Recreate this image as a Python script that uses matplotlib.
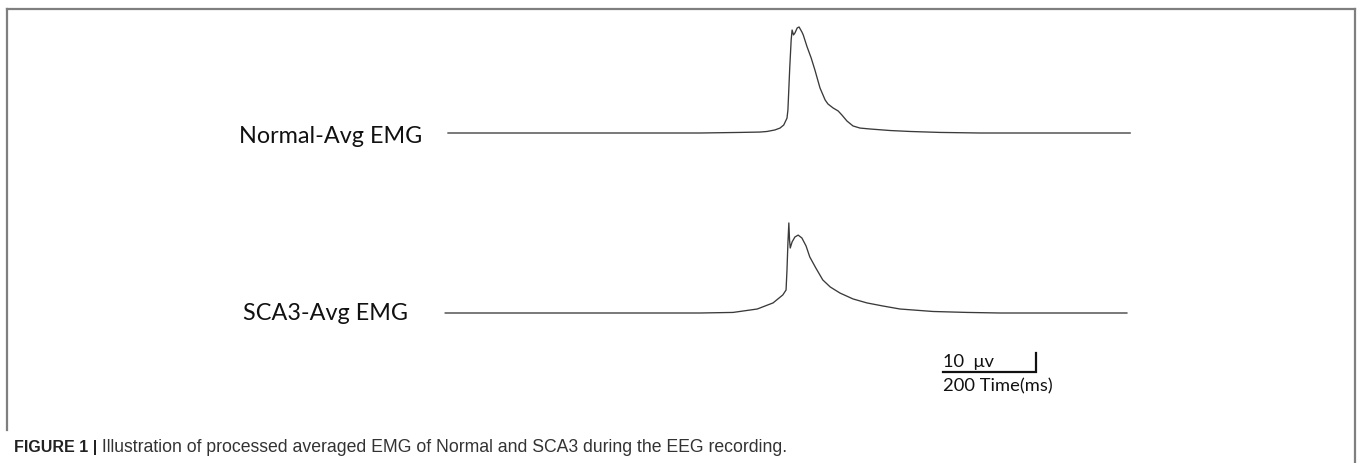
import matplotlib
matplotlib.use("Agg")
import matplotlib.pyplot as plt
from matplotlib.lines import Line2D
import numpy as np

# ---- data (time in ms, amplitude in microvolts above baseline) ----
normal_t = [0, 327, 542, 628, 671, 686, 703, 714, 722, 729, 731, 735, 738, 740, 743,
            746, 751, 755, 761, 764, 772, 781, 789, 800, 811, 817, 828, 839, 847,
            858, 871, 886, 908, 951, 994, 1058, 1144, 1467]
normal_a = [0, 0, 0, 0.3, 0.5, 0.8, 1.6, 2.6, 4.2, 7.8, 12.1, 34.7, 49, 54.2, 51.6,
            52.6, 55.3, 55.8, 53.2, 51.6, 45.5, 39.5, 33.2, 23.7, 17.4, 15.3, 13.2,
            11.6, 9.5, 6.3, 3.7, 2.6, 2.1, 1.3, 0.8, 0.3, 0, 0]

sca3_t = [-6, 542, 613, 665, 699, 720, 727, 729, 731, 733, 734.5, 736, 740, 746,
          753, 761, 770, 778, 791, 806, 822, 843, 871, 901, 935, 972, 1043, 1116,
          1187, 1460]
sca3_a = [0, 0, 0.3, 2.1, 5.3, 9.5, 12.1, 22.6, 36.8, 47.4, 38.4, 34.2, 37.4, 40,
          41, 39.5, 35.3, 29.5, 23.7, 17.4, 13.7, 10.5, 7.4, 5.3, 3.7, 2.1, 0.8,
          0.3, 0, 0]

labels = ["Normal-Avg EMG", "SCA3-Avg EMG"]
scale_ms = 200
scale_uv = 10
scale_labels = ["10  \u03bcv", "200 Time(ms)"]
caption_bold = "FIGURE 1 |"
caption_text = " Illustration of processed averaged EMG of Normal and SCA3 during the EEG recording."

# ---- layout ----
W, H = 1357, 463
PX_PER_MS = 0.465
PX_PER_UV = 1.9
X0 = 448  # pixel x of t = 0

fig = plt.figure(figsize=(W / 100, H / 100), dpi=100)
ax = fig.add_axes([0, 0, 1, 1])
ax.set_xlim(-X0 / PX_PER_MS, (W - X0) / PX_PER_MS)
ax.set_ylim(0, H / PX_PER_UV)
ax.axis("off")

off_normal = (H - 133) / PX_PER_UV
off_sca3 = (H - 313) / PX_PER_UV
trace_color = "#3a3a3a"
ax.plot(normal_t, np.array(normal_a) + off_normal, color=trace_color, lw=0.95,
        solid_joinstyle="round")
ax.plot(sca3_t, np.array(sca3_a) + off_sca3, color=trace_color, lw=0.95,
        solid_joinstyle="round")

# scale bar
sb_x0 = (943 - X0) / PX_PER_MS
sb_y0 = (H - 372) / PX_PER_UV
ax.plot([sb_x0, sb_x0 + scale_ms, sb_x0 + scale_ms],
        [sb_y0, sb_y0, sb_y0 + scale_uv], color="#111111", lw=1.6,
        solid_joinstyle="miter")

def fx(px):
    return px / W

def fy(py):
    return 1 - py / H

label_font = "Lato"
fig.text(fx(422), fy(143), labels[0], ha="right", va="baseline",
         fontsize=16.8, family=label_font, color="#111111")
fig.text(fx(408), fy(320), labels[1], ha="right", va="baseline",
         fontsize=16.8, family=label_font, color="#111111")
fig.text(fx(943), fy(367), scale_labels[0], ha="left", va="baseline",
         fontsize=13.2, family=label_font, color="#111111")
fig.text(fx(943), fy(391), scale_labels[1], ha="left", va="baseline",
         fontsize=13.2, family=label_font, color="#111111")

# caption
cap_font = ["Liberation Sans Narrow", "Liberation Sans"]
t1 = fig.text(fx(14), fy(452), caption_bold, ha="left", va="baseline",
              fontsize=11.5, family=cap_font, weight="bold", color="#222222")
fig.canvas.draw()
bb = t1.get_window_extent()
fig.text(bb.x1 / W, fy(452), caption_text, ha="left", va="baseline",
         fontsize=12.7, family=cap_font, color="#333333")

# frame
fc = "#7f7f7f"
fig.add_artist(Line2D([fx(7), fx(1355)], [fy(9), fy(9)], transform=fig.transFigure,
                      color=fc, lw=1.6))
fig.add_artist(Line2D([fx(7), fx(7)], [fy(9), fy(430)], transform=fig.transFigure,
                      color=fc, lw=1.6))
fig.add_artist(Line2D([fx(1355), fx(1355)], [fy(9), fy(463)], transform=fig.transFigure,
                      color=fc, lw=1.6))

fig.savefig("out.png", dpi=100)
